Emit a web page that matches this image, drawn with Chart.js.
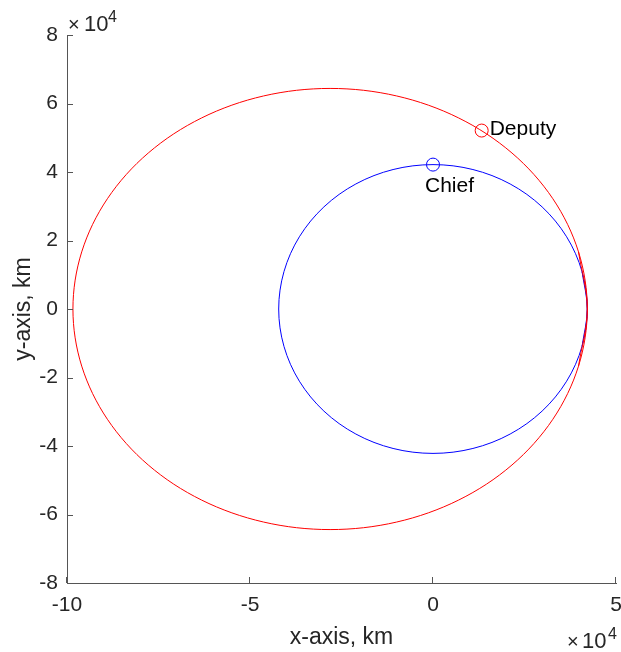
<!DOCTYPE html>
<html>
<head>
<meta charset="utf-8">
<script src="https://cdn.jsdelivr.net/npm/chart.js@4"></script>
<style>
  html, body { margin: 0; padding: 0; background: #fff; }
  #wrap { width: 621px; height: 652px; position: relative; }
</style>
</head>
<body>
<div id="wrap"><canvas id="myChart" width="621" height="652"></canvas></div>
<script>
// values in units of 10^4 km
// chief orbit (blue), points every 15 deg, first points repeated to close the loop
var chiefX = [4.072, 4.216, 4.072, 3.651, 2.981, 2.108, 1.091, 0, -1.091, -2.108, -2.981, -3.651, -4.072,
    -4.216, -4.072, -3.651, -2.981, -2.108, -1.091, 0, 1.091, 2.108, 2.981, 3.651, 4.072, 4.216, 4.072];
var chiefY = [-1.091, 0, 1.091, 2.108, 2.981, 3.651, 4.072, 4.216, 4.072, 3.651, 2.981, 2.108, 1.091,
    0, -1.091, -2.108, -2.981, -3.651, -4.072, -4.216, -4.072, -3.651, -2.981, -2.108, -1.091, 0, 1.091];

// deputy orbit (red)
var deputyX = [3.976, 4.216, 3.976, 3.274, 2.158, 0.703, -0.992, -2.811, -4.630, -6.325, -7.780, -8.896, -9.598,
    -9.838, -9.598, -8.896, -7.780, -6.325, -4.630, -2.811, -0.992, 0.703, 2.158, 3.274, 3.976, 4.216, 3.976];
var deputyY = [-1.667, 0, 1.667, 3.220, 4.554, 5.577, 6.220, 6.440, 6.220, 5.577, 4.554, 3.220, 1.667,
    0, -1.667, -3.220, -4.554, -5.577, -6.220, -6.440, -6.220, -5.577, -4.554, -3.220, -1.667, 0, 1.667];

// current positions
var chiefPos = [0, 4.216];
var deputyPos = [1.33, 5.21];

var xTicks = [-10, -5, 0, 5];
var yTicks = [-8, -6, -4, -2, 0, 2, 4, 6, 8];

function pts(xs, ys) {
    var out = [];
    for (var i = 0; i < xs.length; i++) {
        out.push({x: xs[i], y: ys[i]});
    }
    return out;
}

var axisColor = '#555555';
var textColor = '#262626';
var fontName = 'Liberation Sans, Arial, Helvetica, sans-serif';

// inward tick marks, the x10^4 exponents and the point labels
var decorations = {
    id: 'decorations',
    afterDraw: function (chart) {
        var ctx = chart.ctx;
        var xs = chart.scales.x, ys = chart.scales.y;
        var area = chart.chartArea;
        ctx.save();
        ctx.strokeStyle = axisColor;
        ctx.lineWidth = 1;
        ctx.beginPath();
        xTicks.forEach(function (v) {
            var px = Math.round(xs.getPixelForValue(v)) - 0.5;
            ctx.moveTo(px, area.bottom);
            ctx.lineTo(px, area.bottom - 6);
        });
        yTicks.forEach(function (v) {
            var py = Math.round(ys.getPixelForValue(v)) + 0.5;
            ctx.moveTo(area.left, py);
            ctx.lineTo(area.left + 6, py);
        });
        ctx.stroke();

        ctx.fillStyle = textColor;
        ctx.textBaseline = 'alphabetic';
        ctx.textAlign = 'left';
        // top left exponent
        ctx.font = '20px ' + fontName;
        ctx.fillText('\u00d7', 68, 31);
        ctx.font = '22px ' + fontName;
        ctx.fillText('10', 84, 31);
        ctx.font = '16px ' + fontName;
        ctx.fillText('4', 108, 22);
        // bottom right exponent
        ctx.font = '20px ' + fontName;
        ctx.fillText('\u00d7', 567, 648);
        ctx.font = '22px ' + fontName;
        ctx.fillText('10', 582, 648);
        ctx.font = '16px ' + fontName;
        ctx.fillText('4', 608, 639);

        // point labels
        ctx.fillStyle = '#000';
        ctx.font = '21px ' + fontName;
        var cx = xs.getPixelForValue(chiefPos[0]), cy = ys.getPixelForValue(chiefPos[1]);
        ctx.fillText('Chief', cx - 8, cy + 27);
        var dx = xs.getPixelForValue(deputyPos[0]), dy = ys.getPixelForValue(deputyPos[1]);
        ctx.fillText('Deputy', dx + 8, dy + 4);
        ctx.restore();
    }
};

var ctx = document.getElementById('myChart').getContext('2d');
var chart = new Chart(ctx, {
    type: 'scatter',
    data: {
        datasets: [{
            label: 'Deputy orbit',
            data: pts(deputyX, deputyY),
            showLine: true,
            borderColor: '#ff0000',
            borderWidth: 1,
            pointRadius: 0,
            tension: 0.34
        }, {
            label: 'Chief orbit',
            data: pts(chiefX, chiefY),
            showLine: true,
            borderColor: '#0000ff',
            borderWidth: 1,
            pointRadius: 0,
            tension: 0.34
        }, {
            label: 'Chief',
            data: [{x: chiefPos[0], y: chiefPos[1]}],
            pointStyle: 'circle',
            pointRadius: 6.5,
            borderColor: '#0000ff',
            backgroundColor: 'rgba(0,0,0,0)',
            borderWidth: 1
        }, {
            label: 'Deputy',
            data: [{x: deputyPos[0], y: deputyPos[1]}],
            pointStyle: 'circle',
            pointRadius: 6.5,
            borderColor: '#ff0000',
            backgroundColor: 'rgba(0,0,0,0)',
            borderWidth: 1
        }]
    },
    options: {
        responsive: false,
        animation: false,
        layout: {autoPadding: false, padding: {top: 35, right: 5, left: 0, bottom: 0}},
        plugins: {
            legend: {display: false},
            tooltip: {enabled: false}
        },
        scales: {
            x: {
                type: 'linear',
                min: -10,
                max: 5,
                afterBuildTicks: function (s) {
                    s.ticks = xTicks.map(function (v) { return {value: v}; });
                },
                afterFit: function (s) {
                    s.height = 69;
                    s.paddingLeft = 0;
                    s.paddingRight = 0;
                },
                grid: {display: false, drawTicks: false},
                border: {display: true, color: axisColor, width: 1},
                ticks: {
                    color: textColor,
                    font: {family: fontName, size: 21},
                    padding: 10,
                    maxRotation: 0
                },
                title: {
                    display: true,
                    text: 'x-axis, km',
                    color: textColor,
                    font: {family: fontName, size: 23},
                    padding: {top: 0, bottom: 1}
                }
            },
            y: {
                type: 'linear',
                min: -8,
                max: 8,
                afterBuildTicks: function (s) {
                    s.ticks = yTicks.map(function (v) { return {value: v}; });
                },
                afterFit: function (s) {
                    s.width = 67;
                    s.paddingTop = 0;
                    s.paddingBottom = 0;
                },
                grid: {display: false, drawTicks: false},
                border: {display: true, color: axisColor, width: 1},
                ticks: {
                    color: textColor,
                    font: {family: fontName, size: 21},
                    padding: 9
                },
                title: {
                    display: true,
                    text: 'y-axis, km',
                    color: textColor,
                    font: {family: fontName, size: 23},
                    padding: {top: 10, bottom: 0}
                }
            }
        }
    },
    plugins: [decorations]
});
</script>
</body>
</html>
